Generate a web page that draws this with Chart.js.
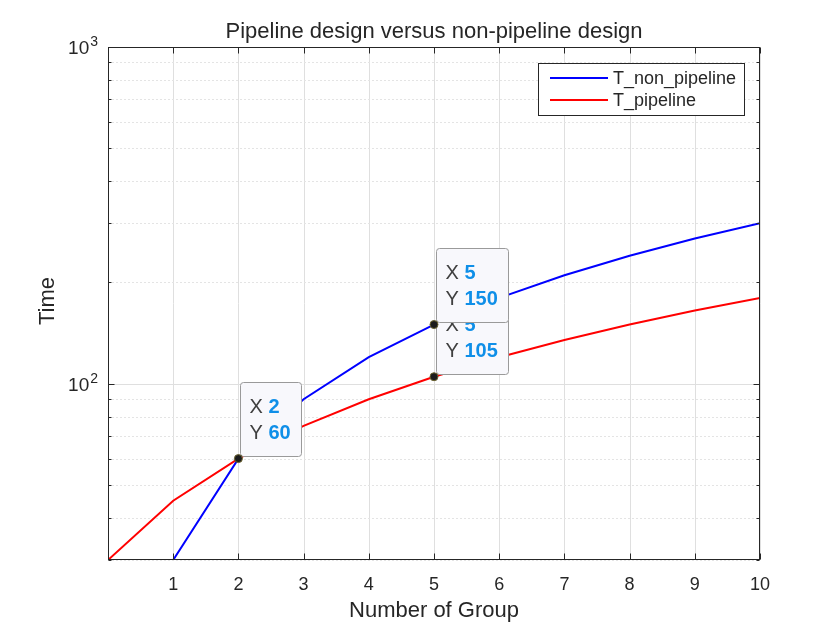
<!DOCTYPE html>
<html>
<head>
<meta charset="utf-8">
<script src="https://cdn.jsdelivr.net/npm/chart.js@4.4.1/dist/chart.umd.min.js"></script>
<style>
  html, body { margin: 0; padding: 0; background: #fff; }
</style>
</head>
<body>
<canvas id="chart" width="840" height="630"></canvas>
<script>
// data
const groups = [0, 1, 2, 3, 4, 5, 6, 7, 8, 9, 10];
const tNonPipeline = [0, 30, 60, 90, 120, 150, 180, 210, 240, 270, 300];
const tPipeline = [30, 45, 60, 75, 90, 105, 120, 135, 150, 165, 180];
const xTicks = [1, 2, 3, 4, 5, 6, 7, 8, 9, 10];
const yMajor = [100, 1000];
const yMinor = [30, 40, 50, 60, 70, 80, 90, 200, 300, 400, 500, 600, 700, 800, 900];
const dataTips = [
  { x: 5, y: 105 },
  { x: 2, y: 60 },
  { x: 5, y: 150 }
];

const FONT = '"Liberation Sans", Arial, Helvetica, sans-serif';
const TXT = '#262626';

const matlabLook = {
  id: 'matlabLook',
  beforeDatasetsDraw(chart) {
    const { ctx, chartArea: a, scales: { x, y } } = chart;
    ctx.save();
    ctx.lineWidth = 1;
    // vertical grid
    ctx.strokeStyle = '#dfdfdf';
    xTicks.forEach(v => {
      const px = Math.round(x.getPixelForValue(v)) + 0.5;
      ctx.beginPath(); ctx.moveTo(px, a.top); ctx.lineTo(px, a.bottom); ctx.stroke();
    });
    // y major grid
    yMajor.forEach(v => {
      const py = Math.round(y.getPixelForValue(v)) + 0.5;
      ctx.beginPath(); ctx.moveTo(a.left, py); ctx.lineTo(a.right, py); ctx.stroke();
    });
    // y minor grid (dotted)
    ctx.strokeStyle = '#e4e4e4';
    ctx.setLineDash([2, 2]);
    yMinor.forEach(v => {
      const py = Math.round(y.getPixelForValue(v)) + 0.5;
      ctx.beginPath(); ctx.moveTo(a.left, py); ctx.lineTo(a.right, py); ctx.stroke();
    });
    ctx.restore();
  },
  afterDatasetsDraw(chart) {
    const { ctx, chartArea: a, scales: { x, y } } = chart;
    ctx.save();

    // frame + ticks
    ctx.strokeStyle = TXT;
    ctx.lineWidth = 1;
    const L = Math.round(a.left) + 0.5, R = Math.round(a.right) - 0.5;
    const T = Math.round(a.top) + 0.5, B = Math.round(a.bottom) - 0.5;
    ctx.strokeRect(L, T, R - L, B - T);
    ctx.beginPath();
    xTicks.forEach(v => {
      const px = Math.round(x.getPixelForValue(v)) + 0.5;
      ctx.moveTo(px, B); ctx.lineTo(px, B - 6);
      ctx.moveTo(px, T); ctx.lineTo(px, T + 6);
    });
    yMajor.forEach(v => {
      const py = Math.round(y.getPixelForValue(v)) + 0.5;
      ctx.moveTo(L, py); ctx.lineTo(L + 6, py);
      ctx.moveTo(R, py); ctx.lineTo(R - 6, py);
    });
    yMinor.forEach(v => {
      const py = Math.round(y.getPixelForValue(v)) + 0.5;
      ctx.moveTo(L, py); ctx.lineTo(L + 3, py);
      ctx.moveTo(R, py); ctx.lineTo(R - 3, py);
    });
    ctx.stroke();

    // y tick labels 10^n
    ctx.fillStyle = TXT;
    ctx.textBaseline = 'middle';
    yMajor.forEach(v => {
      const py = y.getPixelForValue(v);
      const exp = String(Math.round(Math.log10(v)));
      ctx.font = '14px ' + FONT;
      const ew = ctx.measureText(exp).width;
      ctx.textAlign = 'left';
      ctx.fillText(exp, a.left - 10 - ew, py - 5);
      ctx.font = '19px ' + FONT;
      ctx.textAlign = 'right';
      ctx.fillText('10', a.left - 11 - ew, py + 2);
    });

    // title and axis titles
    const cx = (a.left + a.right) / 2;
    ctx.textAlign = 'center';
    ctx.font = '22px ' + FONT;
    ctx.fillText('Pipeline design versus non-pipeline design', cx, 32);
    ctx.fillText('Number of Group', cx, 611);
    ctx.save();
    ctx.translate(48, 301);
    ctx.rotate(-Math.PI / 2);
    ctx.fillText('Time', 0, 0);
    ctx.restore();

    // legend
    const lx = 538, ly = 63, lw = 206, lh = 52;
    ctx.fillStyle = '#fff';
    ctx.fillRect(lx, ly, lw, lh);
    ctx.strokeStyle = TXT;
    ctx.lineWidth = 1;
    ctx.strokeRect(lx + 0.5, ly + 0.5, lw, lh);
    ctx.font = '18px ' + FONT;
    ctx.textAlign = 'left';
    chart.data.datasets.forEach((ds, i) => {
      const ry = ly + 15 + i * 22;
      ctx.strokeStyle = ds.borderColor;
      ctx.lineWidth = 2;
      ctx.beginPath(); ctx.moveTo(lx + 12, ry); ctx.lineTo(lx + 70, ry); ctx.stroke();
      ctx.fillStyle = TXT;
      ctx.fillText(ds.label, lx + 75, ry + 1);
    });

    // data tips
    dataTips.forEach(t => {
      const px = x.getPixelForValue(t.x), py = y.getPixelForValue(t.y);
      ctx.font = 'bold 20px ' + FONT;
      const vw = Math.max(ctx.measureText(String(t.x)).width, ctx.measureText(String(t.y)).width);
      ctx.font = '20px ' + FONT;
      const lw2 = ctx.measureText('Y ').width;
      const bw = Math.round(10 + lw2 + vw + 10), bh = 74;
      const bx = Math.round(px) + 2.5, by = Math.round(py) - 2.5 - bh;
      ctx.beginPath();
      ctx.roundRect(bx, by, bw, bh, 3);
      ctx.fillStyle = '#f8f8fc';
      ctx.fill();
      ctx.strokeStyle = '#9a9a9a';
      ctx.lineWidth = 1;
      ctx.stroke();
      const rows = [['X', t.x], ['Y', t.y]];
      rows.forEach((r, i) => {
        const ty = by + 25 + i * 26;
        ctx.font = '20px ' + FONT;
        ctx.fillStyle = '#404040';
        ctx.textAlign = 'left';
        ctx.fillText(r[0], bx + 9, ty);
        ctx.font = 'bold 20px ' + FONT;
        ctx.fillStyle = '#0f8fe8';
        ctx.fillText(String(r[1]), bx + 9 + lw2, ty);
      });
      // marker
      ctx.beginPath();
      ctx.arc(px, py, 4, 0, Math.PI * 2);
      ctx.fillStyle = '#1c1c1c';
      ctx.fill();
      ctx.strokeStyle = '#6b6330';
      ctx.lineWidth = 1;
      ctx.stroke();
    });

    ctx.restore();
  }
};

const toPoints = vals => groups.map((g, i) => ({ x: g, y: vals[i] > 0 ? vals[i] : null }));

new Chart(document.getElementById('chart'), {
  type: 'line',
  data: {
    datasets: [
      {
        label: 'T_non_pipeline',
        data: toPoints(tNonPipeline),
        borderColor: '#0000ff',
        borderWidth: 2,
        pointRadius: 0,
        tension: 0
      },
      {
        label: 'T_pipeline',
        data: toPoints(tPipeline),
        borderColor: '#ff0000',
        borderWidth: 2,
        pointRadius: 0,
        tension: 0
      }
    ]
  },
  options: {
    responsive: false,
    animation: false,
    devicePixelRatio: 1,
    layout: { padding: { left: 0, top: 47, right: 80, bottom: 0 } },
    plugins: {
      legend: { display: false },
      tooltip: { enabled: false },
      title: { display: false }
    },
    scales: {
      x: {
        type: 'linear',
        min: 0,
        max: 10,
        grid: { display: false },
        border: { display: false },
        ticks: {
          stepSize: 1,
          padding: 6,
          color: TXT,
          font: { family: FONT, size: 18 },
          callback: v => (v === 0 ? '' : v)
        },
        afterFit: s => { s.height = 70; }
      },
      y: {
        type: 'logarithmic',
        min: 30,
        max: 1000,
        grid: { display: false },
        border: { display: false },
        ticks: { display: false },
        afterFit: s => { s.width = 108; }
      }
    }
  },
  plugins: [matlabLook]
});
</script>
</body>
</html>
